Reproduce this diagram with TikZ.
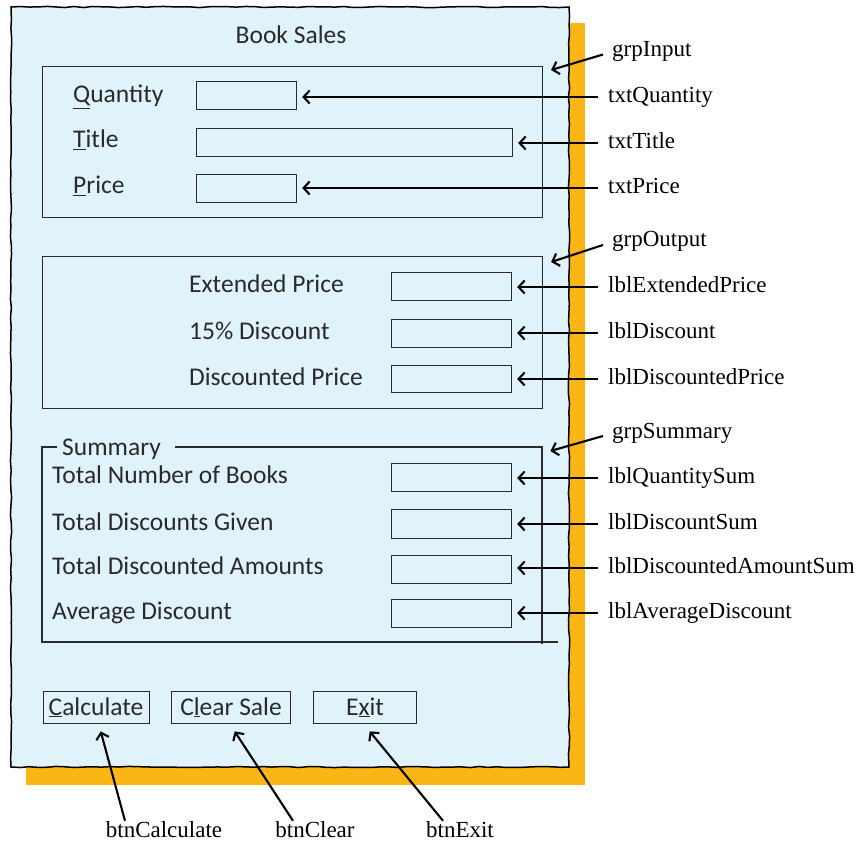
\documentclass[tikz,border=0pt]{standalone}
\usepackage{fontspec}
\newfontfamily\formfont{Carlito}
\newfontfamily\callfont{Liberation Serif}
\usetikzlibrary{arrows.meta,decorations.pathmorphing}
\definecolor{panelblue}{HTML}{E0F2FA}
\definecolor{shadoworange}{HTML}{FBB515}
\definecolor{ink}{HTML}{2A2A2A}
\tikzset{
  formtext/.style={font=\formfont\fontsize{25.5}{28}\selectfont, text=ink, inner sep=0pt, anchor=base west},
  callout/.style={font=\callfont\fontsize{23}{26}\selectfont, inner sep=0pt, anchor=west, text height=16pt, text depth=5pt},
  fieldbox/.style={draw=ink, line width=1.2pt, fill=panelblue, anchor=north west, inner sep=0pt},
  groupbox/.style={draw=ink, line width=1.1pt, anchor=north west, inner sep=0pt},
  btnbox/.style={draw=ink, line width=1.4pt, fill=panelblue, anchor=north west, inner sep=0pt, minimum height=32pt},
  pointer/.style={draw=black, line width=2.1pt, -{Straight Barb[length=6pt,width=13pt]}},
  panelstyle/.style={draw=black, line width=1.5pt, fill=panelblue, decorate, decoration={random steps, segment length=9pt, amplitude=0.6pt}},
}
\begin{document}
\begin{tikzpicture}[x=1pt,y=-1pt]
\useasboundingbox (0,0) rectangle (856,842);
% shadow and panel
\node[fill=shadoworange, anchor=north west, inner sep=0pt, minimum width=559pt, minimum height=762pt] (shadow) at (26,23) {};
\draw[panelstyle] (11,7) -- (569,7) -- (569,767) -- (11,767) -- cycle;
\node[formtext, anchor=base] (title) at (291,44) {Book Sales};

% input group
\node[groupbox, minimum width=500pt, minimum height=151pt] (gin) at (42,66) {};
\node[formtext] (lqty) at (73,103) {\underline{Q}uantity};
\node[formtext] (ltitle) at (73,148) {\underline{T}itle};
\node[formtext] (lprice) at (73,194) {\underline{P}rice};
\node[fieldbox, minimum width=100pt, minimum height=28pt] (txtQuantity) at (196,81) {};
\node[fieldbox, minimum width=316pt, minimum height=28pt] (txtTitle) at (196,128) {};
\node[fieldbox, minimum width=100pt, minimum height=28pt] (txtPrice) at (196,174) {};

% output group
\node[groupbox, minimum width=500pt, minimum height=152pt] (gout) at (42,256) {};
\node[formtext] (lext) at (189,292) {Extended Price};
\node[formtext] (ldisc) at (189,339) {15\% Discount};
\node[formtext] (ldprice) at (189,385) {Discounted Price};
\node[fieldbox, minimum width=120pt, minimum height=28pt] (lblExtendedPrice) at (391,272) {};
\node[fieldbox, minimum width=120pt, minimum height=28pt] (lblDiscount) at (391,319) {};
\node[fieldbox, minimum width=120pt, minimum height=27pt] (lblDiscountedPrice) at (391,365) {};

% summary group
\node[anchor=north west, inner sep=0pt, minimum width=500pt, minimum height=195pt] (gsum) at (42,447) {};
\draw[ink, line width=1.1pt] (57,447) -| (42,642) -- (558,642);
\draw[ink, line width=1.1pt] (175,447) -- (542,447) -- (542,644);
\node[formtext] (lsum) at (62,455) {Summary};
\node[formtext] (lnb) at (52,483) {Total Number of Books};
\node[formtext] (ltdg) at (52,530) {Total Discounts Given};
\node[formtext] (ltda) at (52,574) {Total Discounted Amounts};
\node[formtext] (lavg) at (52,619) {Average Discount};
\node[fieldbox, minimum width=120pt, minimum height=28pt] (lblQuantitySum) at (391,463) {};
\node[fieldbox, minimum width=120pt, minimum height=29pt] (lblDiscountSum) at (391,509) {};
\node[fieldbox, minimum width=120pt, minimum height=28pt] (lblDiscountedAmountSum) at (391,555) {};
\node[fieldbox, minimum width=120pt, minimum height=28pt] (lblAverageDiscount) at (391,599) {};

% buttons
\node[btnbox, minimum width=106pt] (btnCalc) at (43,691) {};
\node[btnbox, minimum width=119pt] (btnClr) at (171,691) {};
\node[btnbox, minimum width=103pt] (btnEx) at (313,691) {};
\node[formtext, anchor=base] (tcalc) at (96,715) {\underline{C}alculate};
\node[formtext, anchor=base] (tclr) at (231,715) {C\underline{l}ear Sale};
\node[formtext, anchor=base] (tex) at (365,715) {E\underline{x}it};

% right callouts
\node[callout] (cgin) at (612,51.5) {grpInput};
\node[callout] (cqty) at (608,97) {txtQuantity};
\node[callout] (ctitle) at (608,143) {txtTitle};
\node[callout] (cprice) at (608,188) {txtPrice};
\node[callout] (cgout) at (612,241.5) {grpOutput};
\node[callout] (cext) at (608,287) {lblExtendedPrice};
\node[callout] (cdisc) at (608,333) {lblDiscount};
\node[callout] (cdprice) at (608,379) {lblDiscountedPrice};
\node[callout] (cgsum) at (612,432.5) {grpSummary};
\node[callout] (cqsum) at (608,478) {lblQuantitySum};
\node[callout] (cdsum) at (608,524) {lblDiscountSum};
\node[callout] (cdasum) at (608,568) {lblDiscountedAmountSum};
\node[callout] (cavg) at (608,613) {lblAverageDiscount};

% bottom callouts
\node[callout, anchor=base] (cbcalc) at (164,837) {btnCalculate};
\node[callout, anchor=base] (cbclr) at (315,837) {btnClear};
\node[callout, anchor=base] (cbex) at (460,837) {btnExit};

% arrows
\draw[pointer] ([xshift=-9pt,yshift=-3pt]cgin.west) -- ([xshift=8pt,yshift=-4pt]gin.north east);
\draw[pointer] ([xshift=-9pt,yshift=-3.5pt]cgout.west) -- ([xshift=8pt,yshift=-6pt]gout.north east);
\draw[pointer] ([xshift=-9pt,yshift=-3.5pt]cgsum.west) -- ([xshift=8pt,yshift=-4pt]gsum.north east);
\foreach \c/\b in {cqty/txtQuantity, ctitle/txtTitle, cprice/txtPrice,
                   cext/lblExtendedPrice, cdisc/lblDiscount, cdprice/lblDiscountedPrice,
                   cqsum/lblQuantitySum, cdsum/lblDiscountSum, cdasum/lblDiscountedAmountSum, cavg/lblAverageDiscount}
  \draw[pointer, shorten >=5pt] ([xshift=-10pt]\c.west) -- (\c.west -| \b.east);
\draw[pointer] ([xshift=-39pt]cbcalc.north) -- ([xshift=4pt,yshift=-7pt]btnCalc.south);
\draw[pointer] ([xshift=-22pt]cbclr.north) -- ([xshift=3.5pt,yshift=-7pt]btnClr.south);
\draw[pointer] ([xshift=-17pt]cbex.north) -- ([xshift=4.5pt,yshift=-7pt]btnEx.south);
\end{tikzpicture}
\end{document}
